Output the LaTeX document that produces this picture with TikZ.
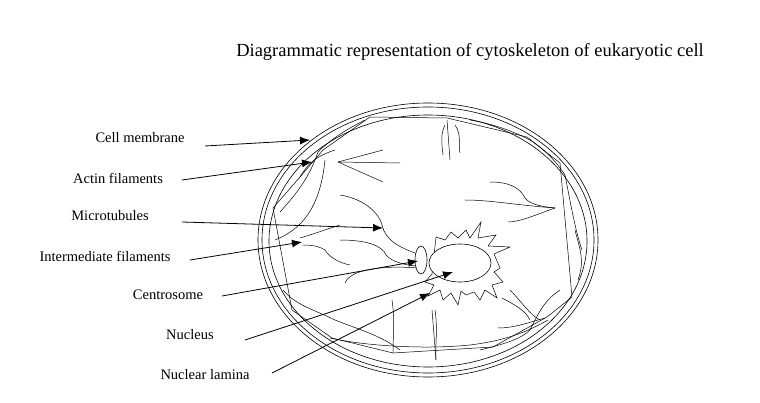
\documentclass[tikz,border=0pt]{standalone}
\usepackage{fontspec}
\setmainfont{Liberation Serif}
\usetikzlibrary{arrows.meta,shapes.geometric}
\begin{document}
\begin{tikzpicture}[x=1pt,y=-1pt,
  lab/.style={font=\fontsize{14.5}{16}\selectfont,anchor=center,inner sep=0pt},
  ptr/.style={-{Latex[length=10pt,width=8pt]},line width=0.8pt},
  fil/.style={line width=0.5pt}]
\useasboundingbox (0,0) rectangle (760,403);
\node[font=\fontsize{18.5}{20}\selectfont] (title) at (470,52) {Diagrammatic representation of cytoskeleton of eukaryotic cell};
% membrane
\draw[line width=0.6pt] (428,240) ellipse [x radius=170,y radius=137];
\draw[line width=0.6pt] (428,240) ellipse [x radius=166,y radius=133];
\draw[line width=0.6pt] (428,241) ellipse [x radius=159,y radius=126];
% cortical actin (wavy square)
\draw[fil] (273,208) -- (292,310) -- (332,338) -- (393,353) -- (493,347) -- (547,317) -- (572,297) -- (560,163) -- (527,137) -- (447,118) -- (370,117) -- (323,150) -- (300,177) -- cycle;
\draw[fil] (280,212) .. controls (300,190) and (310,175) .. (318,152) .. controls (330,140) and (345,130) .. (365,120);
\draw[fil] (300,177) .. controls (310,160) and (320,155) .. (335,150);
\draw[fil] (275,240) .. controls (300,230) and (320,210) .. (325,160);
\draw[fil] (283,290) .. controls (295,305) and (315,310) .. (335,320) .. controls (360,330) and (380,335) .. (400,350);
\draw[fil] (330,338) .. controls (360,345) and (420,350) .. (470,345) .. controls (510,340) and (530,330) .. (548,320);
\draw[fil] (470,120) .. controls (500,125) and (520,135) .. (530,140) .. controls (545,150) and (555,160) .. (565,175) .. controls (570,200) and (575,230) .. (582,250);
\draw[fil] (575,230) .. controls (580,250) and (585,260) .. (578,280);
\draw[fil] (560,290) .. controls (545,300) and (540,310) .. (530,330) .. controls (520,340) and (500,345) .. (480,350);
% actin near corners
\draw[fil] (447,120) -- (450,160);
\draw[fil] (445,125) .. controls (440,135) and (442,145) .. (443,155);
\draw[fil] (455,125) .. controls (462,135) and (458,145) .. (460,153);
\draw[fil] (392,300) .. controls (395,320) and (393,335) .. (393,353);
\draw[fil] (435,310) .. controls (438,330) and (435,345) .. (436,360);
\draw[fil] (432,310) -- (436,360);
\draw[fil] (510,290) .. controls (520,300) and (530,315) .. (540,320);
\draw[fil] (502,298) .. controls (515,305) and (525,310) .. (530,320);
\draw[fil] (498,328) .. controls (515,328) and (530,322) .. (545,318);
% actin lines upper left
\draw[fil] (338,162) -- (383,150);
\draw[fil] (338,162) -- (400,163);
\draw[fil] (338,162) -- (383,182);
% filaments to right
\draw[fil] (490,182) .. controls (510,182) and (520,188) .. (525,198) .. controls (530,205) and (545,207) .. (555,208);
\draw[fil] (465,200) .. controls (490,200) and (515,205) .. (555,208);
\draw[fil] (508,222) .. controls (520,222) and (535,215) .. (555,208);
% microtubules from centrosome
\draw[fil] (340,195) .. controls (360,198) and (378,210) .. (382,225) .. controls (385,240) and (400,248) .. (418,254);
\draw[fil] (340,240) .. controls (365,240) and (382,245) .. (386,255) .. controls (392,262) and (405,265) .. (416,266);
\draw[fil] (345,283) .. controls (350,270) and (380,265) .. (418,268);
\draw[fil] (300,238) .. controls (320,232) and (330,228) .. (340,225);
\draw[fil] (303,245) .. controls (315,245) and (320,247) .. (325,250) .. controls (330,258) and (340,263) .. (350,265);
% nuclear lamina star
\draw[fil,fill=white] plot[smooth cycle,tension=0] coordinates {
 (436,237) (445,240) (451,232) (458,238) (466,230) (470,238) (481,222) (478,238) (496,235) (488,246) (510,247) (494,254) (500,268) (494,272) (503,282) (492,285) (497,298) (485,290) (480,300) (474,292) (466,295) (461,291) (458,305) (451,293) (443,300) (440,290) (428,296) (434,285) (425,282) (432,274)};
% nucleus, centrosome
\node[draw,ellipse,fill=white,line width=0.6pt,minimum width=62pt,minimum height=38pt,inner sep=0pt] (nuc) at (460,263) {};
\node[draw,ellipse,fill=white,line width=0.6pt,minimum width=12pt,minimum height=28pt,inner sep=0pt] (cen) at (421,260) {};
% labels
\node[lab] (l1) at (140,138) {Cell membrane};
\node[lab] (l2) at (118,178) {Actin filaments};
\node[lab] (l3) at (110,216) {Microtubules};
\node[lab] (l4) at (105,256) {Intermediate filaments};
\node[lab] (l5) at (168,295) {Centrosome};
\node[lab] (l6) at (190,335) {Nucleus};
\node[lab] (l7) at (205,375) {Nuclear lamina};
\coordinate (s1) at (205,146); \coordinate (t1) at (310,140);
\coordinate (s2) at (182,180); \coordinate (t2) at (312,162);
\coordinate (s3) at (182,222); \coordinate (t3) at (383,228);
\coordinate (s4) at (190,260); \coordinate (t4) at (302,242);
\coordinate (s5) at (222,296); \coordinate (t5) at (418,261);
\coordinate (s6) at (245,340); \coordinate (t6) at (453,272);
\coordinate (s7) at (272,373); \coordinate (t7) at (430,293);
\foreach \i in {1,...,7} {\draw[ptr] (s\i) -- (t\i);}
\end{tikzpicture}
\end{document}
